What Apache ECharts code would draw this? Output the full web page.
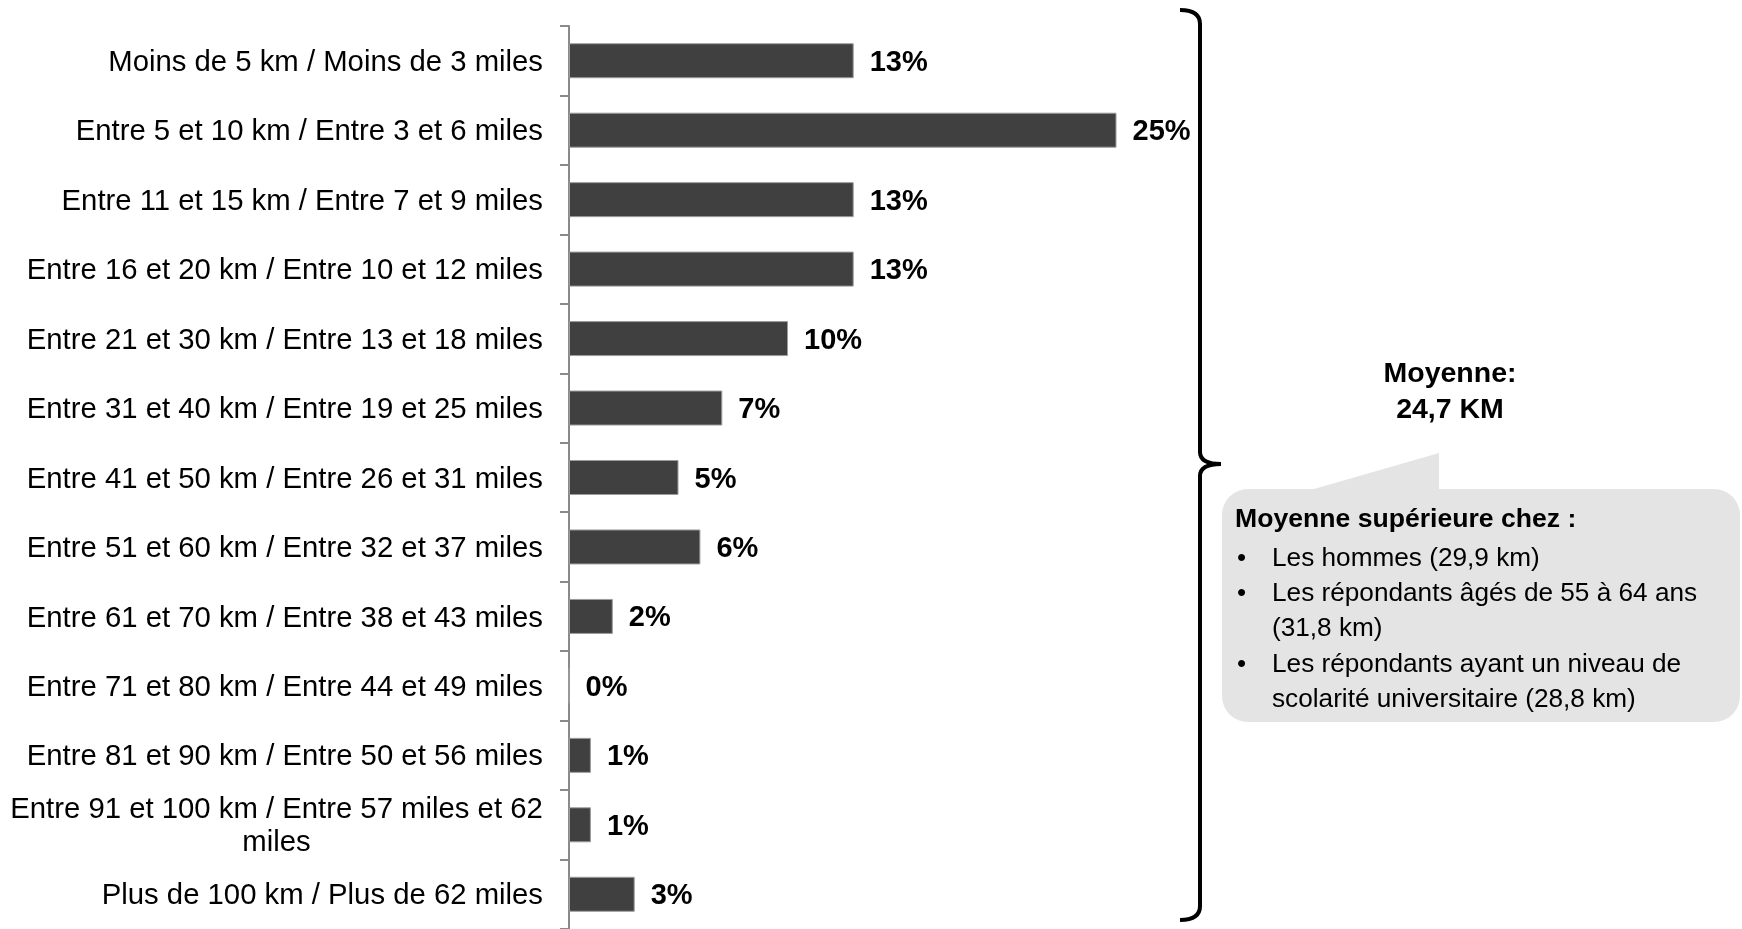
<!DOCTYPE html>
<html>
<head>
<meta charset="utf-8">
<script src="https://cdn.jsdelivr.net/npm/echarts@6/dist/echarts.min.js"></script>
<style>
html,body{margin:0;padding:0;background:#fff;}
#chart{width:1742px;height:929px;}
</style>
</head>
<body>
<div id="chart"></div>
<script>
const categories = [
  "Moins de 5 km / Moins de 3 miles",
  "Entre 5 et 10 km / Entre 3 et 6 miles",
  "Entre 11 et 15 km / Entre 7 et 9 miles",
  "Entre 16 et 20 km / Entre 10 et 12 miles",
  "Entre 21 et 30 km / Entre 13 et 18 miles",
  "Entre 31 et 40 km / Entre 19 et 25 miles",
  "Entre 41 et 50 km / Entre 26 et 31 miles",
  "Entre 51 et 60 km / Entre 32 et 37 miles",
  "Entre 61 et 70 km / Entre 38 et 43 miles",
  "Entre 71 et 80 km / Entre 44 et 49 miles",
  "Entre 81 et 90 km / Entre 50 et 56 miles",
  "Entre 91 et 100 km / Entre 57 miles et 62 miles",
  "Plus de 100 km / Plus de 62 miles"
];
const values = [13, 25, 13, 13, 10, 7, 5, 6, 2, 0, 1, 1, 3];

const averageTitle = ["Moyenne:", "24,7 KM"];
const calloutHeading = "Moyenne supérieure chez :";
const calloutBullets = [
  ["Les hommes (29,9 km)"],
  ["Les répondants âgés de 55 à 64 ans", "(31,8 km)"],
  ["Les répondants ayant un niveau de", "scolarité universitaire (28,8 km)"]
];

const FONT = "'Liberation Sans', Arial, Helvetica, sans-serif";
const LABEL_SIZE = 29.3;
const MAX_LABEL_W = 545;

const ctx = document.createElement('canvas').getContext('2d');
ctx.font = LABEL_SIZE + "px " + FONT;
function wrap(text) {
  if (ctx.measureText(text).width <= MAX_LABEL_W) return [text];
  const words = text.split(' ');
  const lines = [];
  let cur = '';
  words.forEach(w => {
    const t = cur ? cur + ' ' + w : w;
    if (ctx.measureText(t).width > MAX_LABEL_W && cur) { lines.push(cur); cur = w; }
    else cur = t;
  });
  if (cur) lines.push(cur);
  return lines;
}
let blockW = 0;
categories.forEach(c => {
  const ls = wrap(c);
  if (ls.length > 1) ls.forEach(l => { blockW = Math.max(blockW, Math.ceil(ctx.measureText(l).width)); });
});

const chart = echarts.init(document.getElementById('chart'));

const braceStyle = { stroke: '#000', lineWidth: 4, fill: null };
const graphics = [];
graphics.push({ type: 'bezierCurve', shape: { x1: 1180, y1: 10, cpx1: 1200, cpy1: 10, x2: 1200, y2: 24 }, style: braceStyle });
graphics.push({ type: 'line', shape: { x1: 1200, y1: 23, x2: 1200, y2: 453 }, style: braceStyle });
graphics.push({ type: 'bezierCurve', shape: { x1: 1200, y1: 452, cpx1: 1200, cpy1: 464, x2: 1221, y2: 464 }, style: braceStyle });
graphics.push({ type: 'bezierCurve', shape: { x1: 1221, y1: 464, cpx1: 1200, cpy1: 464, x2: 1200, y2: 476 }, style: braceStyle });
graphics.push({ type: 'line', shape: { x1: 1200, y1: 475, x2: 1200, y2: 907 }, style: braceStyle });
graphics.push({ type: 'bezierCurve', shape: { x1: 1200, y1: 906, cpx1: 1200, cpy1: 920, x2: 1180, y2: 920 }, style: braceStyle });

averageTitle.forEach((t, i) => {
  graphics.push({
    type: 'text',
    style: { text: t, x: 1450, y: 374 + i * 36, textAlign: 'center', textVerticalAlign: 'middle',
      font: 'bold 28.5px ' + FONT, fill: '#000' }
  });
});
graphics.push({
  type: 'polygon',
  shape: { points: [[1300, 493], [1439, 453], [1439, 493]] },
  style: { fill: '#e4e4e4' }
});
graphics.push({
  type: 'rect',
  shape: { x: 1222, y: 489, width: 518, height: 233, r: 26 },
  style: { fill: '#e4e4e4' }
});
graphics.push({
  type: 'text',
  style: { text: calloutHeading, x: 1235, y: 520, textAlign: 'left', textVerticalAlign: 'middle',
    font: 'bold 26.6px ' + FONT, fill: '#000' }
});
const bulletY = [559, 594, 665];
calloutBullets.forEach((lines, bi) => {
  graphics.push({
    type: 'text',
    style: { text: '•', x: 1237, y: bulletY[bi], textAlign: 'left', textVerticalAlign: 'middle',
      font: '26px ' + FONT, fill: '#000' }
  });
  lines.forEach((l, li) => {
    graphics.push({
      type: 'text',
      style: { text: l, x: 1272, y: bulletY[bi] + li * 35, textAlign: 'left', textVerticalAlign: 'middle',
        font: '26.2px ' + FONT, fill: '#000' }
    });
  });
});

const option = {
  animation: false,
  backgroundColor: '#fff',
  grid: { left: 569, top: 26, width: 657, height: 906, containLabel: false },
  xAxis: {
    type: 'value', min: 0, max: 30, show: false,
    splitLine: { show: false }
  },
  yAxis: {
    type: 'category',
    data: categories,
    inverse: true,
    axisLine: { show: true, lineStyle: { color: '#8a8a8a', width: 2 } },
    axisTick: { show: true, length: 9, lineStyle: { color: '#8a8a8a', width: 2 } },
    axisLabel: {
      interval: 0,
      margin: 26,
      color: '#000',
      fontSize: LABEL_SIZE,
      fontFamily: FONT,
      lineHeight: 33,
      padding: [4, 0, 0, 0],
      formatter: function (v) {
        const ls = wrap(v);
        if (ls.length === 1) return v;
        return ls.map(l => '{c|' + l + '}').join('\n');
      },
      rich: {
        c: { width: blockW, align: 'center', fontSize: LABEL_SIZE, fontFamily: FONT, lineHeight: 33, color: '#000' }
      }
    }
  },
  series: [{
    type: 'bar',
    data: values,
    barWidth: 35,
    itemStyle: { color: '#404040', borderColor: '#9c9c9c', borderWidth: 1 },
    label: {
      show: true,
      position: 'right',
      distance: 16,
      offset: [0, 2],
      formatter: '{c}%',
      color: '#000',
      fontWeight: 'bold',
      fontSize: 29,
      fontFamily: FONT
    }
  }],
  graphic: graphics
};
chart.setOption(option);
</script>
</body>
</html>
